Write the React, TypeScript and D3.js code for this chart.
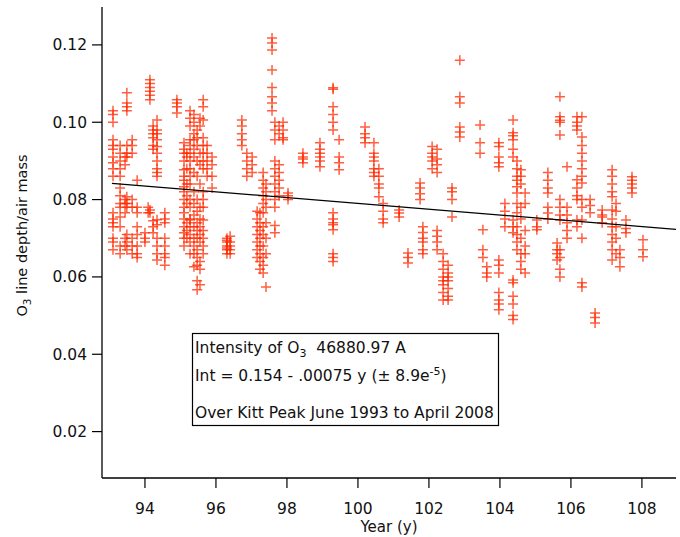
import React from 'react';
import * as d3 from 'd3';

const xTicks = [94, 96, 98, 100, 102, 104, 106, 108];
const yTicks = [0.02, 0.04, 0.06, 0.08, 0.1, 0.12];
const yTickLabels = ['0.02', '0.04', '0.06', '0.08', '0.10', '0.12'];

const clusterYears = [
  93.10, 93.30, 93.44, 93.49, 93.64, 93.78, 94.00, 94.09, 94.14, 94.23, 94.34, 94.56,
  94.90, 95.10, 95.18, 95.27, 95.38, 95.47, 95.55, 95.64, 95.75, 95.89,
  96.31, 96.40, 96.73, 96.87, 97.02, 97.16, 97.24, 97.33, 97.41, 97.58, 97.66, 97.78, 97.89, 98.03,
  98.45, 98.93, 99.30, 99.47, 100.20, 100.45, 100.59, 100.71, 101.16, 101.41, 101.75, 101.83,
  102.09, 102.23, 102.40, 102.54, 102.65, 102.87, 103.44, 103.52, 103.63, 103.97, 104.14,
  104.37, 104.48, 104.59, 104.71, 105.04, 105.35, 105.61, 105.69, 105.89, 106.17, 106.31,
  106.54, 106.68, 106.88, 107.16, 107.27, 107.38, 107.55, 107.72, 108.03,
];

const clusterValues = [
  [0.103, 0.102, 0.100, 0.0955, 0.094, 0.093, 0.091, 0.0895, 0.088, 0.086, 0.0766, 0.075, 0.074, 0.073, 0.070, 0.069, 0.067],
  [0.094, 0.092, 0.090, 0.088, 0.086, 0.083, 0.081, 0.079, 0.078, 0.0755, 0.073, 0.068, 0.066],
  [0.091, 0.089, 0.080, 0.079, 0.0766, 0.070, 0.068],
  [0.1076, 0.105, 0.104, 0.103, 0.094, 0.092, 0.091, 0.0807, 0.079, 0.078, 0.071, 0.069, 0.067],
  [0.0955, 0.094, 0.092, 0.080, 0.078, 0.070, 0.068, 0.066],
  [0.085, 0.078, 0.0766, 0.073, 0.071, 0.068, 0.066, 0.065],
  [0.0714, 0.070, 0.069],
  [0.078, 0.0766],
  [0.111, 0.110, 0.109, 0.108, 0.107, 0.1058, 0.0773, 0.0766],
  [0.099, 0.098, 0.097, 0.096, 0.094, 0.093, 0.0745, 0.073, 0.0714],
  [0.1006, 0.098, 0.097, 0.0955, 0.0937, 0.092, 0.090, 0.088, 0.087, 0.086, 0.0748, 0.0735, 0.070, 0.068, 0.066, 0.0644],
  [0.0766, 0.075, 0.074, 0.070, 0.068, 0.066, 0.065, 0.063],
  [0.1058, 0.105, 0.104, 0.1024],
  [0.0947, 0.093, 0.092, 0.090, 0.0877, 0.086, 0.085, 0.0833, 0.082, 0.080, 0.078, 0.0766, 0.075, 0.073, 0.0714, 0.070, 0.068],
  [0.092, 0.091, 0.088, 0.084, 0.081, 0.079, 0.074, 0.072, 0.070],
  [0.103, 0.101, 0.099, 0.0955, 0.094, 0.092, 0.090, 0.088, 0.086, 0.084, 0.080, 0.078, 0.075, 0.073, 0.0747, 0.071, 0.069, 0.066],
  [0.102, 0.100, 0.097, 0.0955, 0.093, 0.091, 0.087, 0.082, 0.079, 0.076, 0.073, 0.070, 0.068, 0.066, 0.0626],
  [0.098, 0.096, 0.094, 0.090, 0.086, 0.080, 0.077, 0.074, 0.072, 0.070, 0.067, 0.065, 0.063, 0.059, 0.0567],
  [0.101, 0.099, 0.092, 0.089, 0.084, 0.078, 0.075, 0.073, 0.071, 0.069, 0.064, 0.062, 0.058],
  [0.1058, 0.104, 0.1006, 0.096, 0.094, 0.092, 0.090, 0.088, 0.082, 0.080, 0.078, 0.0747, 0.072, 0.070, 0.068, 0.066],
  [0.094, 0.092, 0.090, 0.088, 0.086],
  [0.091, 0.089, 0.086, 0.083],
  [0.070, 0.0695, 0.069, 0.068, 0.0675, 0.067, 0.066],
  [0.0705, 0.069, 0.068, 0.067, 0.066],
  [0.1006, 0.099, 0.097, 0.0955, 0.094],
  [0.092, 0.090, 0.088, 0.086],
  [0.091, 0.089, 0.087],
  [0.077, 0.075, 0.073, 0.071, 0.069, 0.067, 0.065],
  [0.0766, 0.074, 0.072, 0.070, 0.068, 0.066, 0.064, 0.062],
  [0.087, 0.085, 0.083, 0.081, 0.079, 0.0766, 0.073, 0.071, 0.068, 0.065, 0.063, 0.061],
  [0.084, 0.082, 0.080, 0.078, 0.074, 0.070, 0.066, 0.0574],
  [0.1218, 0.1205, 0.1187, 0.1135, 0.109, 0.1066, 0.105, 0.103],
  [0.100, 0.098, 0.0955, 0.090, 0.088, 0.086, 0.084, 0.082, 0.080, 0.078, 0.0733, 0.0714],
  [0.099, 0.097, 0.089, 0.087, 0.085, 0.083, 0.081],
  [0.100, 0.098, 0.096, 0.0955],
  [0.0817, 0.081, 0.080],
  [0.092, 0.091, 0.0905, 0.0895],
  [0.0947, 0.093, 0.092, 0.091, 0.090, 0.0885],
  [0.1089, 0.1085, 0.104, 0.102, 0.100, 0.098, 0.0766, 0.075, 0.074, 0.0735, 0.0722, 0.066, 0.065, 0.064],
  [0.0955, 0.091, 0.0895, 0.0877],
  [0.0988, 0.097, 0.096, 0.0947],
  [0.0947, 0.092, 0.091, 0.090, 0.088, 0.087, 0.086],
  [0.088, 0.086, 0.084, 0.083, 0.0807],
  [0.079, 0.077, 0.075, 0.074],
  [0.0773, 0.0765, 0.0755],
  [0.0662, 0.065, 0.0636],
  [0.0843, 0.083, 0.0815, 0.080],
  [0.073, 0.0715, 0.070, 0.069, 0.067, 0.066],
  [0.0937, 0.092, 0.091, 0.090, 0.088],
  [0.093, 0.0905, 0.089, 0.087, 0.072, 0.0705, 0.069, 0.067],
  [0.066, 0.064, 0.062, 0.060, 0.059, 0.058, 0.056, 0.054],
  [0.063, 0.061, 0.060, 0.059, 0.057, 0.055, 0.054],
  [0.083, 0.082, 0.080, 0.0755],
  [0.116, 0.1066, 0.105, 0.0988, 0.0975, 0.0962],
  [0.0993, 0.0947, 0.092],
  [0.0722, 0.067, 0.065],
  [0.0626, 0.061, 0.060],
  [0.0947, 0.0937, 0.091, 0.0895, 0.0885, 0.0644, 0.063, 0.061, 0.056, 0.054, 0.053, 0.0515],
  [0.079, 0.077, 0.075, 0.073],
  [0.1006, 0.0973, 0.0965, 0.0955, 0.093, 0.091, 0.0747, 0.073, 0.0714, 0.0592, 0.0585, 0.055, 0.053, 0.050, 0.049],
  [0.090, 0.088, 0.086, 0.085, 0.0833, 0.0817, 0.079, 0.0766, 0.073, 0.071, 0.069, 0.067],
  [0.0877, 0.086, 0.084, 0.078, 0.075, 0.070, 0.066, 0.064, 0.062],
  [0.0817, 0.079, 0.072, 0.068, 0.066, 0.061],
  [0.0747, 0.073, 0.0722],
  [0.087, 0.085, 0.083, 0.0817, 0.078, 0.0765, 0.075],
  [0.0688, 0.067, 0.066, 0.0644],
  [0.1066, 0.1014, 0.1005, 0.100, 0.0967, 0.080, 0.078, 0.076, 0.0747, 0.067, 0.065, 0.062, 0.060],
  [0.0885, 0.078, 0.076, 0.074, 0.072, 0.070],
  [0.1014, 0.100, 0.099, 0.098, 0.0851, 0.083, 0.081, 0.080, 0.0747, 0.073],
  [0.1014, 0.0962, 0.094, 0.092, 0.090, 0.088, 0.086, 0.0843, 0.080, 0.078, 0.0747, 0.070, 0.0585, 0.0574],
  [0.080, 0.0785, 0.0766],
  [0.0507, 0.0495, 0.0481],
  [0.0773, 0.076, 0.0755, 0.074],
  [0.0877, 0.086, 0.084, 0.082, 0.0807, 0.0773, 0.075, 0.073, 0.071, 0.069, 0.067, 0.0644],
  [0.079, 0.077, 0.073, 0.070, 0.066],
  [0.067, 0.065, 0.0626],
  [0.0747, 0.0725, 0.0714],
  [0.0859, 0.085, 0.084, 0.083, 0.0817],
  [0.0696, 0.067, 0.0652],
];

const fitIntercept = 0.154;
const fitSlope = -0.00075;
const fitStart = 93.07;

const W = 680;
const H = 537;
const left = 102;
const right = 676;
const top = 7;
const bottom = 478;

const FONT = '"DejaVu Sans", Verdana, sans-serif';
const RED = '#ff2a00';

export default function App() {
  const x = d3.scaleLinear().domain([92.79, 108.96]).range([left, right]);
  const y = d3.scaleLinear().domain([0.008, 0.1298]).range([bottom, top]);

  const points: { yr: number; v: number }[] = [];
  clusterYears.forEach((yr, i) => {
    clusterValues[i].forEach((v) => points.push({ yr, v }));
  });

  const xEnd = x.domain()[1];
  const fitLine = d3.line<number>()
    .x((d) => x(d))
    .y((d) => y(fitIntercept + fitSlope * d))([fitStart, xEnd]);

  const m = 5;

  return (
    <div style={{ position: 'fixed', left: 0, top: 0 }}>
      <svg width={W} height={H} style={{ display: 'block', background: '#fff' }}>
        <g stroke={RED} strokeWidth={1.5} strokeOpacity={0.75} fill="none">
          {points.map((p, i) => {
            const px = x(p.yr);
            const py = y(p.v);
            return (
              <path key={i} d={`M${px - m},${py}H${px + m}M${px},${py - m}V${py + m}`} />
            );
          })}
        </g>
        <path d={fitLine || ''} stroke="#000" strokeWidth={1.3} fill="none" />

        {/* axes */}
        <line x1={left} x2={left} y1={top} y2={bottom} stroke="#000" strokeWidth={1.3} />
        <line x1={left} x2={right} y1={bottom} y2={bottom} stroke="#000" strokeWidth={1.3} />
        {yTicks.map((t, i) => (
          <g key={t}>
            <line x1={left - 10} x2={left} y1={y(t)} y2={y(t)} stroke="#000" strokeWidth={1.2} />
            <text x={left - 15} y={y(t)} dy="0.36em" textAnchor="end" fontFamily={FONT} fontSize={15.5} fill="#111">
              {yTickLabels[i]}
            </text>
          </g>
        ))}
        {xTicks.map((t) => (
          <g key={t}>
            <line x1={x(t)} x2={x(t)} y1={bottom} y2={bottom + 10} stroke="#000" strokeWidth={1.2} />
            <text x={x(t)} y={514} textAnchor="middle" fontFamily={FONT} fontSize={15.5} fill="#111">
              {t}
            </text>
          </g>
        ))}
        <text x={(left + right) / 2} y={532} textAnchor="middle" fontFamily={FONT} fontSize={15} fill="#111">
          Year (y)
        </text>
        <text transform={`translate(27,${(top + bottom) / 2 - 7}) rotate(-90)`} textAnchor="middle" fontFamily={FONT} fontSize={14.5} fill="#111">
          O<tspan fontSize={10.5} dy={4}>3</tspan><tspan dy={-4}> line depth/air mass</tspan>
        </text>

        {/* annotation box */}
        <rect x={192.5} y={333.5} width={306} height={92} fill="#fff" stroke="#000" strokeWidth={1.2} />
        <g fontFamily={FONT} fontSize={15.5} fill="#111">
          <text x={195} y={353}>
            Intensity of O<tspan fontSize={11} dy={4}>3</tspan><tspan dy={-4} xmlSpace="preserve">{'  46880.97 A'}</tspan>
          </text>
          <text x={195} y={381}>
            {'Int = 0.154 - .00075 y (± 8.9e'}<tspan fontSize={11} dy={-6}>-5</tspan><tspan dy={6}>)</tspan>
          </text>
          <text x={195} y={418}>Over Kitt Peak June 1993 to April 2008</text>
        </g>
      </svg>
    </div>
  );
}
